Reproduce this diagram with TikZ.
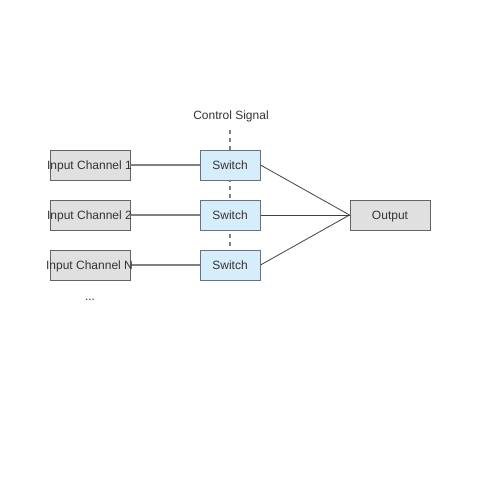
\documentclass[tikz,border=0pt]{standalone}
\usepackage{fontspec}
\setmainfont{Liberation Sans}
\definecolor{swfill}{RGB}{214,237,252}
\definecolor{swdraw}{RGB}{105,115,125}
\definecolor{infill}{RGB}{224,224,224}
\definecolor{indraw}{RGB}{100,100,100}
\definecolor{txt}{RGB}{51,51,51}
\begin{document}
\begin{tikzpicture}[x=1pt,y=-1pt,
  every node/.style={font=\fontsize{12}{14}\selectfont, text=txt, text height=8.6pt, text depth=2.4pt, inner sep=0pt},
  lbl/.style={yshift=-1.6pt},
  inbox/.style={draw=indraw, fill=infill, line width=1pt, minimum width=80pt, minimum height=30pt},
  swbox/.style={draw=swdraw, fill=swfill, line width=1pt, minimum width=60pt, minimum height=30pt},
  feed/.style={draw=black!50, line width=1.5pt},
  outl/.style={draw=black!75, line width=0.8pt},
  ctrl/.style={draw=black!50, line width=1.5pt, dash pattern=on 4pt off 4pt}]
\useasboundingbox (0,0) rectangle (500,500);
\coordinate (ctop) at (230,130);
\coordinate (cbot) at (230,250);
\draw[ctrl] (ctop) -- (cbot);
\node[inbox] (in1) at (90,165) {};
\node[inbox] (in2) at (90,215) {};
\node[inbox] (in3) at (90,265) {};
\node[swbox] (sw1) at (230,165) {};
\node[swbox] (sw2) at (230,215) {};
\node[swbox] (sw3) at (230,265) {};
\node[inbox] (out) at (390,215) {};
\node[lbl] (s1) at (sw1) {Switch};
\node[lbl] (s2) at (sw2) {Switch};
\node[lbl] (s3) at (sw3) {Switch};
\node[lbl] (o) at (out) {Output};
\draw[feed] (in1.east) -- (sw1.west);
\draw[feed] (in2.east) -- (sw2.west);
\draw[feed] (in3.east) -- (sw3.west);
\node[lbl] (t1) at (89.5,165) {Input Channel 1};
\node[lbl] (t2) at (89.5,215) {Input Channel 2};
\node[lbl] (t3) at (89.5,265) {Input Channel N};
\draw[outl] (sw1.east) -- (out.west);
\draw[outl] (sw2.east) -- (out.west);
\draw[outl] (sw3.east) -- (out.west);
\node[lbl] (cs) at (231,115) {Control Signal};
\node[lbl] (dots) at (90,296) {...};
\end{tikzpicture}
\end{document}
